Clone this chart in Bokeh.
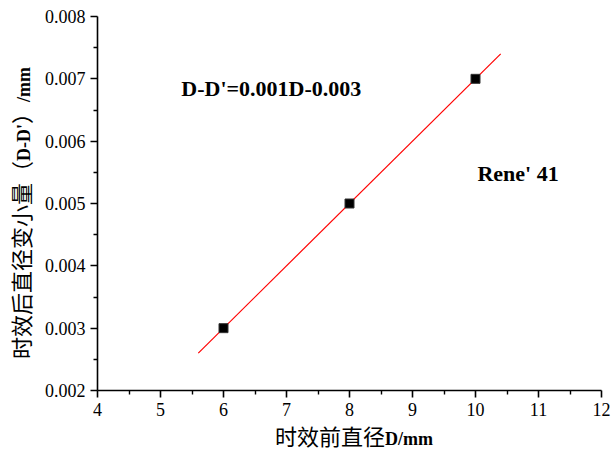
from bokeh.plotting import figure
from bokeh.models import Range1d, FixedTicker, PrintfTickFormatter, Label, ColumnDataSource, Div
from bokeh.layouts import row, column
from bokeh.embed import file_html
from bokeh.resources import INLINE

# ---- data ----
d_before = [6, 8, 10]                 # diameter before aging, mm
d_change = [0.003, 0.005, 0.007]      # diameter decrease, mm
fit_x = [5.6, 10.4]                   # fitted line end points
fit_y = [0.0026, 0.0074]
x_ticks = [4, 5, 6, 7, 8, 9, 10, 11, 12]
y_ticks = [0.002, 0.003, 0.004, 0.005, 0.006, 0.007, 0.008]
x_minor = [4.5, 5.5, 6.5, 7.5, 8.5, 9.5, 10.5, 11.5]
y_minor = [0.0025, 0.0035, 0.0045, 0.0055, 0.0065, 0.0075]
equation_text = "D-D'=0.001D-0.003"
material_text = "Rene' 41"
x_title_cjk, x_title_latin = "时效前直径", "D/mm"
y_title_parts = [("时效后直径变小量（", "cjk"), ("D-D'", "latin"), ("）", "cjk"), ("/mm", "latin")]

SERIF = "Liberation Serif"
CJK = "Noto Sans CJK SC"

p = figure(width=572, height=425, output_backend="svg", toolbar_location=None,
           x_range=Range1d(4, 12), y_range=Range1d(0.002, 0.008),
           min_border_left=57, min_border_right=11, min_border_top=16, min_border_bottom=35)

p.xgrid.visible = False
p.ygrid.visible = False
p.outline_line_color = None
p.background_fill_color = "white"
p.border_fill_color = "white"

for ax, ticks, minor in ((p.xaxis[0], x_ticks, x_minor), (p.yaxis[0], y_ticks, y_minor)):
    ax.ticker = FixedTicker(ticks=ticks, minor_ticks=minor)
    ax.axis_line_width = 1.6
    ax.axis_line_color = "black"
    ax.major_tick_line_color = "black"
    ax.major_tick_line_width = 1.6
    ax.minor_tick_line_color = "black"
    ax.minor_tick_line_width = 1.4
    ax.major_tick_in = 0
    ax.major_tick_out = 7
    ax.minor_tick_in = 0
    ax.minor_tick_out = 4
    ax.major_label_text_font = SERIF
    ax.major_label_text_font_size = "18px"
    ax.major_label_text_color = "black"
    ax.major_label_standoff = 5

p.yaxis[0].formatter = PrintfTickFormatter(format="%.3f")

src = ColumnDataSource(dict(x=d_before, y=d_change))
fit = ColumnDataSource(dict(x=fit_x, y=fit_y))
p.line("x", "y", source=fit, line_color="#ff0000", line_width=1.2)
p.scatter("x", "y", source=src, marker="square", size=9, fill_color="black", line_color="#333333")

p.add_layout(Label(x=5.33, y=0.006845, text=equation_text, text_font=SERIF,
                   text_font_style="bold", text_font_size="22px", text_baseline="middle",
                   text_color="black"))
p.add_layout(Label(x=10.03, y=0.00548, text=material_text, text_font=SERIF,
                   text_font_style="bold", text_font_size="22px", text_baseline="middle",
                   text_color="black"))


def span(txt, kind):
    if kind == "cjk":
        return f'<span style="font-family:\'{CJK}\';font-size:22px;font-weight:normal">{txt}</span>'
    return f'<span style="font-family:\'{SERIF}\';font-size:18px;font-weight:bold">{txt}</span>'


x_html = ('<div style="padding-left:235px;line-height:20px;white-space:nowrap;color:black;margin:0">'
          + span(x_title_cjk, "cjk") + span(x_title_latin, "latin") + '</div>')
xdiv = Div(text=x_html, width=572, height=23, margin=0)

y_html = ('<div style="position:absolute;left:23px;top:359px;transform-origin:0 0;'
          'transform:rotate(-90deg) translateY(-50%);white-space:nowrap;line-height:24px;color:black;margin:0">'
          + "".join(span(t, k) for t, k in y_title_parts) + '</div>')
ydiv = Div(text=y_html, width=40, height=448, margin=0)

layout = row(ydiv, column(p, xdiv, spacing=0), spacing=0)

open("out.html", "w").write(file_html(layout, INLINE))
